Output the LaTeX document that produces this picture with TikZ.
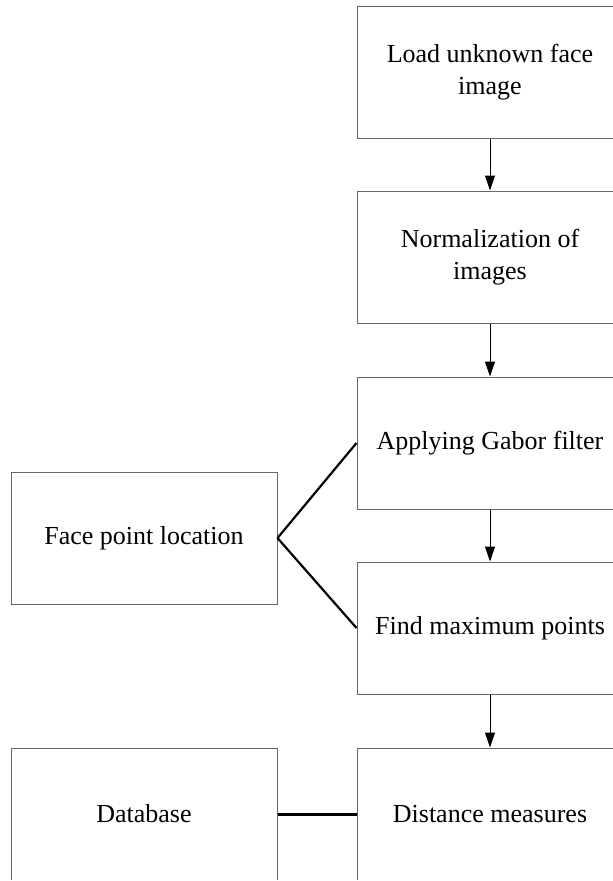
\documentclass[tikz,border=0pt]{standalone}
\usepackage{fontspec}
\setmainfont{Liberation Serif}
\usetikzlibrary{arrows.meta}

\begin{document}
\begin{tikzpicture}[x=1pt, y=-1pt,
    stage/.style={draw=black!60, line width=1pt, minimum width=266pt, minimum height=132pt,
      align=center, font=\fontsize{26}{32}\selectfont, inner sep=0pt},
    flow/.style={line width=1pt, -{Triangle[length=15pt, width=10pt]}},
    link/.style={line width=2.2pt}]
  \useasboundingbox (0,0) rectangle (613,881);
  \clip (0,0) rectangle (613,879);
  \fill[white] (0,0) rectangle (613,881);
  % main column
  \node[stage] (load) at (490,72) {Load unknown face\\image};
  \node[stage] (norm) at (490,257) {Normalization of\\images};
  \node[stage] (gabor) at (490,443) {Applying Gabor filter};
  \node[stage] (maxpts) at (490,628) {Find maximum points};
  \node[stage] (dist) at (490,814) {Distance measures};
  % side boxes
  \node[stage] (face) at (144,538) {Face point location};
  \node[stage] (db) at (144,814) {Database};
  \draw[flow] (load) -- (norm);
  \draw[flow] (norm) -- (gabor);
  \draw[flow] (gabor) -- (maxpts);
  \draw[flow] (maxpts) -- (dist);
  \draw[link] (face.east) -- (gabor.west);
  \draw[link] (face.east) -- (maxpts.west);
  \draw[link, line width=3pt] (db) -- (dist);
\end{tikzpicture}
\end{document}
